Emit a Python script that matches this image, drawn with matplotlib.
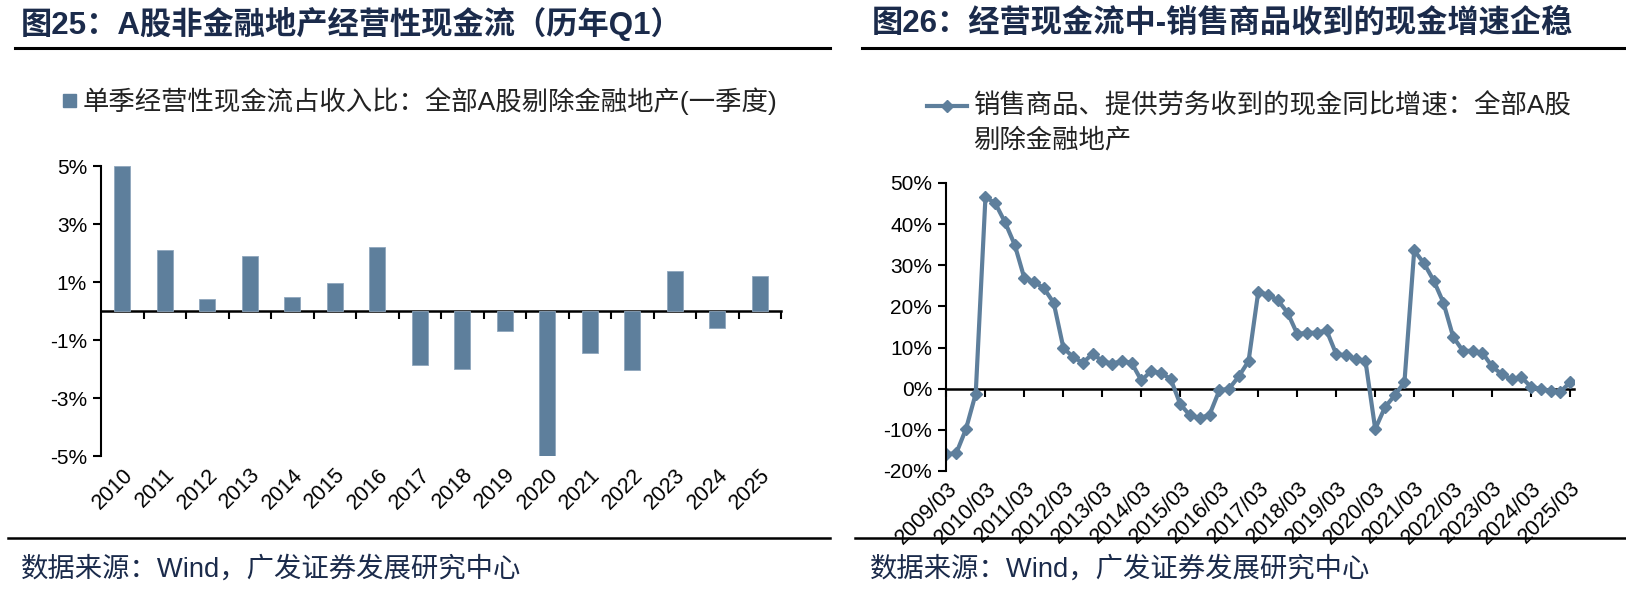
import matplotlib
matplotlib.use('Agg')
import matplotlib.pyplot as plt
from matplotlib.lines import Line2D
from matplotlib.patches import Rectangle

plt.rcParams['font.family'] = ['Liberation Sans', 'Noto Sans CJK SC']
plt.rcParams['axes.unicode_minus'] = False

# ---- data ----
bar_years = ["2010", "2011", "2012", "2013", "2014", "2015", "2016", "2017",
             "2018", "2019", "2020", "2021", "2022", "2023", "2024", "2025"]
cash_ratio = [5.00, 2.10, 0.41, 1.88, 0.50, 0.97, 2.20, -1.85,
              -2.00, -0.69, -4.99, -1.45, -2.04, 1.39, -0.59, 1.19]

year_ticks = ["2009/03", "2010/03", "2011/03", "2012/03", "2013/03", "2014/03",
              "2015/03", "2016/03", "2017/03", "2018/03", "2019/03", "2020/03",
              "2021/03", "2022/03", "2023/03", "2024/03", "2025/03"]
sales_growth = [
    -15.9, -15.7, -9.8, -1.2,
    46.6, 45.1, 40.5, 35.0,
    26.8, 26.0, 24.4, 20.9,
    9.9, 7.7, 6.3, 8.5,
    6.7, 6.1, 6.7, 6.3,
    2.0, 4.3, 3.8, 2.4,
    -3.8, -6.5, -7.2, -6.3,
    -0.4, 0.0, 3.0, 6.7,
    23.6, 22.8, 21.5, 18.5,
    13.3, 13.6, 13.6, 14.2,
    8.4, 8.1, 7.3, 6.7,
    -9.8, -4.5, -1.6, 1.6,
    33.6, 30.5, 26.3, 20.9,
    12.6, 9.2, 9.2, 8.7,
    5.4, 3.5, 2.3, 2.8,
    0.4, 0.0, -0.6, -0.8,
    1.6,
]

title1 = "图25：A股非金融地产经营性现金流（历年Q1）"
title2 = "图26：经营现金流中-销售商品收到的现金增速企稳"
legend1 = "单季经营性现金流占收入比：全部A股剔除金融地产(一季度)"
legend2a = "销售商品、提供劳务收到的现金同比增速：全部A股"
legend2b = "剔除金融地产"
source = "数据来源：Wind，广发证券发展研究中心"

navy = '#1B2B4B'
blue = '#5E7F9C'

W, H = 1626, 593
fig = plt.figure(figsize=(W / 100, H / 100), dpi=100)


def fx(px):
    return px / W


def fy(py):
    return 1 - py / H


# ---- frame: titles, rules, sources ----
fig.text(fx(21), fy(24), title1, fontsize=22.5, fontweight='bold', color=navy, va='center')
fig.text(fx(872), fy(24), title2, fontsize=22.5, fontweight='bold', color=navy, va='center')
for x0, x1 in [(15, 830), (862, 1626)]:
    fig.add_artist(Line2D([fx(x0), fx(x1)], [fy(48), fy(48)], color='black', lw=2.2))
    fig.add_artist(Line2D([fx(x0 - 7), fx(x1)], [fy(538), fy(538)], color='black', lw=1.8))
fig.text(fx(21), fy(569), source, fontsize=19.7, color=navy, va='center')
fig.text(fx(870), fy(569), source, fontsize=19.7, color=navy, va='center')

# ---- left: bars ----
ax1 = fig.add_axes([fx(101), fy(456), fx(781) - fx(101), fy(166) - fy(456)])
idx = list(range(len(bar_years)))
ax1.bar(idx, cash_ratio, width=0.38, color=blue, edgecolor='#8FA7BD', linewidth=0.6)
ax1.set_xlim(-0.5, len(bar_years) - 0.5)
ax1.set_ylim(-5, 5)
ax1.set_yticks([-5, -3, -1, 1, 3, 5])
ax1.set_yticklabels([f"{v}%" for v in [-5, -3, -1, 1, 3, 5]])
ax1.set_xticks(idx)
ax1.set_xticklabels(bar_years, rotation=45, ha='right', rotation_mode='anchor')
ax1.tick_params(axis='x', length=0, pad=6, labelsize=15.5)
ax1.tick_params(axis='y', direction='out', length=6, width=1.5, labelsize=15, pad=4)
for s in ['top', 'right', 'bottom']:
    ax1.spines[s].set_visible(False)
ax1.spines['left'].set_linewidth(1.5)
sec1 = ax1.secondary_xaxis(0.5)
sec1.set_alignment('bottom')
sec1.set_xticks([i + 0.5 for i in idx])
sec1.tick_params(direction='out', length=6, width=1.5, labelbottom=False)
sec1.spines['bottom'].set_linewidth(1.8)

# left legend
fig.add_artist(Rectangle((fx(63), fy(107)), fx(13), fy(94) - fy(107), color=blue))
fig.text(fx(83), fy(101), legend1, fontsize=19, color='#222222', va='center')

# ---- right: line ----
ax2 = fig.add_axes([fx(946), fy(471), fx(1574) - fx(946), fy(183) - fy(471)])
qx = list(range(len(sales_growth)))
ax2.plot(qx, sales_growth, color=blue, lw=3, marker='D', markersize=6.5,
         markerfacecolor=blue, markeredgecolor=blue)
ax2.set_xlim(-0.05, len(sales_growth) - 0.6)
ax2.set_ylim(-20, 50)
yt = list(range(-20, 51, 10))
ax2.set_yticks(yt)
ax2.set_yticklabels([f"{v}%" for v in yt])
tick_pos = qx[::4]
ax2.set_xticks(tick_pos)
ax2.set_xticklabels(year_ticks, rotation=45, ha='right', rotation_mode='anchor')
ax2.tick_params(axis='x', length=0, pad=5, labelsize=15.5)
ax2.tick_params(axis='y', direction='out', length=6, width=1.5, labelsize=15, pad=4)
for s in ['top', 'right', 'bottom']:
    ax2.spines[s].set_visible(False)
ax2.spines['left'].set_linewidth(1.5)
sec2 = ax2.secondary_xaxis(20 / 70)
sec2.set_alignment('bottom')
sec2.set_xticks(tick_pos)
sec2.tick_params(direction='out', length=6, width=1.5, labelbottom=False)
sec2.spines['bottom'].set_linewidth(1.8)

# right legend
fig.add_artist(Line2D([fx(927), fx(967)], [fy(106), fy(106)], color=blue, lw=3))
fig.add_artist(Line2D([fx(947)], [fy(106)], color=blue, marker='D', markersize=6.5))
fig.text(fx(973), fy(106), legend2a, fontsize=19, color='#222222', va='center')
fig.text(fx(973), fy(140), legend2b, fontsize=19, color='#222222', va='center')

fig.savefig('out.png', dpi=100)
